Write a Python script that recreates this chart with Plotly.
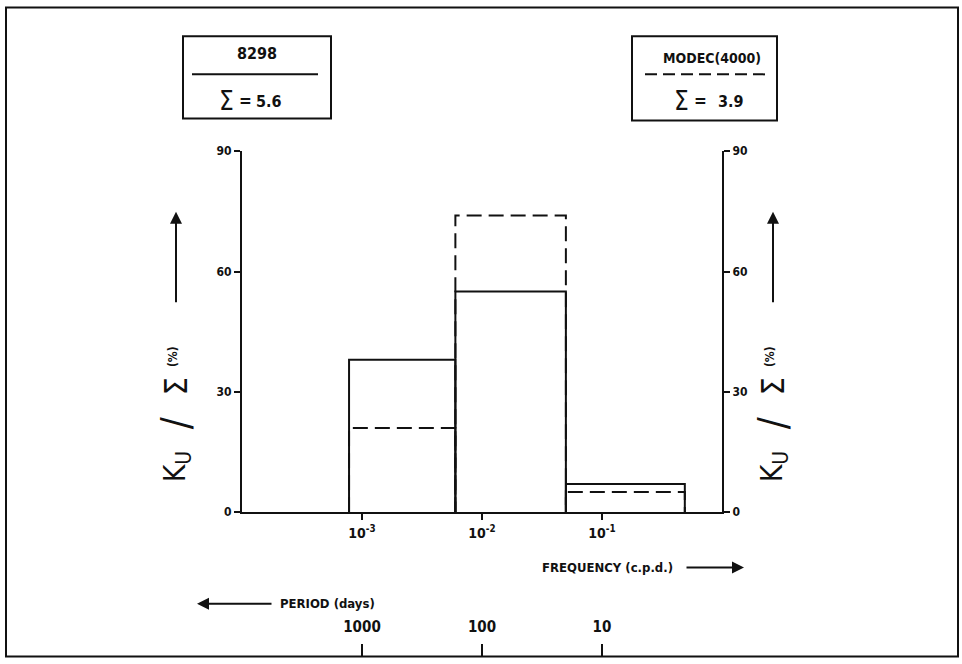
import plotly.graph_objects as go

# Frequency bands (cycles per day) and the share of K_U falling in each band (%)
freq_edges = [7.8e-4, 6.0e-3, 5.0e-2, 0.49]
obs_8298 = [38, 55, 7]
modec_4000 = [21, 74, 5]

freq_ticks = [1e-3, 1e-2, 1e-1]
freq_ticktext = ["10<sup>-3</sup>", "10<sup>-2</sup>", "10<sup>-1</sup>"]
period_ticks = [1000, 100, 10]
y_ticks = [0, 30, 60, 90]

sum_8298 = "5.6"
sum_modec = "3.9"

W, H = 962, 664
FONT = "Liberation Sans Narrow, DejaVu Sans Condensed, Liberation Sans, sans-serif"
INK = "#111111"

# the page is shown with a small vertical inset; lay things out in shown pixels
V_SCALE = 664 / 680
V_OFF = 8 * V_SCALE


def px(x):
    return x / W


def py(y):
    fy = (y - V_OFF) / V_SCALE
    fy = min(max(fy, 0.6), H - 0.6)
    return 1 - fy / H


def outline(edges, vals):
    xs, ys = [], []
    for i, v in enumerate(vals):
        xs += [edges[i], edges[i], edges[i + 1], edges[i + 1], None]
        ys += [0, v, v, 0, None]
    return xs, ys


fig = go.Figure()

x1, y1 = outline(freq_edges, obs_8298)
fig.add_trace(go.Scatter(x=x1, y=y1, mode="lines", line=dict(color=INK, width=2),
                         name="8298", showlegend=False, hoverinfo="skip"))
x2, y2 = outline(freq_edges, modec_4000)
fig.add_trace(go.Scatter(x=x2, y=y2, mode="lines",
                         line=dict(color=INK, width=2, dash="15px,7px"),
                         name="MODEC(4000)", showlegend=False, hoverinfo="skip"))
# carriers for the right-hand and period axes
fig.add_trace(go.Scatter(x=[freq_edges[0]], y=[0], yaxis="y2", mode="markers",
                         marker=dict(opacity=0), showlegend=False, hoverinfo="skip"))
fig.add_trace(go.Scatter(x=[1.0 / p for p in period_ticks], y=[0, 0, 0], xaxis="x2",
                         mode="markers", marker=dict(opacity=0), showlegend=False,
                         hoverinfo="skip"))

xdom = [px(242), px(722)]
ydom = [py(511.7), py(151.7)]
ytickfont = dict(family=FONT, size=12, color=INK, weight="bold")

fig.update_layout(
    width=W, height=H,
    margin=dict(l=0, r=0, t=0, b=0),
    paper_bgcolor="white", plot_bgcolor="white",
    font=dict(family=FONT, color=INK),
    xaxis=dict(type="log", range=[-4, 0], domain=xdom, anchor="y",
               showline=True, linecolor=INK, linewidth=2, showgrid=False, zeroline=False,
               ticks="outside", ticklen=6, tickwidth=1.5, tickcolor=INK,
               tickvals=freq_ticks, ticktext=freq_ticktext, ticklabelstandoff=1,
               tickfont=dict(family=FONT, size=14, color=INK, weight="bold")),
    xaxis2=dict(type="log", range=[-4, 0], domain=xdom, overlaying="x",
                anchor="free", position=py(662), side="top",
                showline=False, showgrid=False, zeroline=False,
                ticks="outside", ticklen=12, tickwidth=1.5, tickcolor=INK,
                tickvals=[1.0 / p for p in period_ticks],
                ticktext=[str(p) for p in period_ticks],
                ticklabelstandoff=6,
                tickfont=dict(family=FONT, size=15, color=INK, weight="bold")),
    yaxis=dict(range=[0, 90], domain=ydom, anchor="x",
               showline=True, linecolor=INK, linewidth=2, showgrid=False, zeroline=False,
               ticks="outside", ticklen=6, tickwidth=1.5, tickcolor=INK,
               tickvals=y_ticks, tickfont=ytickfont),
    yaxis2=dict(range=[0, 90], domain=ydom, anchor="x", overlaying="y", side="right",
                showline=True, linecolor=INK, linewidth=2, showgrid=False, zeroline=False,
                ticks="outside", ticklen=6, tickwidth=1.5, tickcolor=INK,
                tickvals=y_ticks, tickfont=ytickfont),
)

shapes = []
# page frame
shapes.append(dict(type="rect", xref="paper", yref="paper",
                   x0=px(6), x1=px(958), y0=py(662), y1=py(3),
                   line=dict(color=INK, width=2)))
# key boxes
shapes.append(dict(type="rect", xref="paper", yref="paper",
                   x0=px(183), x1=px(331), y0=py(119), y1=py(37),
                   line=dict(color=INK, width=2)))
shapes.append(dict(type="line", xref="paper", yref="paper",
                   x0=px(192), x1=px(318), y0=py(75), y1=py(75),
                   line=dict(color=INK, width=2)))
shapes.append(dict(type="rect", xref="paper", yref="paper",
                   x0=px(632), x1=px(777), y0=py(121), y1=py(37),
                   line=dict(color=INK, width=2)))
shapes.append(dict(type="line", xref="paper", yref="paper",
                   x0=px(645), x1=px(767), y0=py(75), y1=py(75),
                   line=dict(color=INK, width=2, dash="12px,6px")))
fig.update_layout(shapes=shapes)

ann = []


def text(x, y, t, size, angle=0, bold=True):
    ann.append(dict(x=px(x), y=py(y), xref="paper", yref="paper", text=t,
                    showarrow=False, xanchor="center", yanchor="middle",
                    textangle=angle,
                    font=dict(family=FONT, size=size, color=INK,
                              weight="bold" if bold else "normal")))


def arrow(x0, y0, x1, y1):
    # tail (x0, y0) -> head (x1, y1), in shown pixels
    ann.append(dict(x=px(x1), y=py(y1), xref="paper", yref="paper", text="",
                    showarrow=True, ax=x0 - x1, ay=(y0 - y1) / V_SCALE,
                    axref="pixel", ayref="pixel",
                    arrowhead=2, arrowsize=1.2, arrowwidth=2, arrowcolor=INK))


# key box contents
text(257, 54, "8298", 16)
text(226, 102, "Σ", 26, bold=False)
text(245, 102, "=", 17)
text(269, 102, sum_8298, 16)
text(712, 59, "MODEC(4000)", 14)
text(681, 102, "Σ", 26, bold=False)
text(700, 102, "=", 17)
text(731, 102, sum_modec, 16)

# rotated K_U / Σ (%) titles with their upward arrows
for xc in (176, 773):
    text(xc, 466, "K<sub>U</sub>", 30, angle=-90, bold=False)
    text(xc, 423, "/", 40, angle=-90, bold=False)
    text(xc, 386, "Σ", 32, angle=-90, bold=False)
    text(xc - 3, 357, "(%)", 12, angle=-90)
    arrow(xc, 302, xc, 212)

text(607, 567, "FREQUENCY (c.p.d.)", 13)
arrow(685, 567, 744, 567)
text(327, 603, "PERIOD (days)", 13)
arrow(273, 603, 197, 603)

fig.update_layout(annotations=ann)
fig.write_html("out.html")
